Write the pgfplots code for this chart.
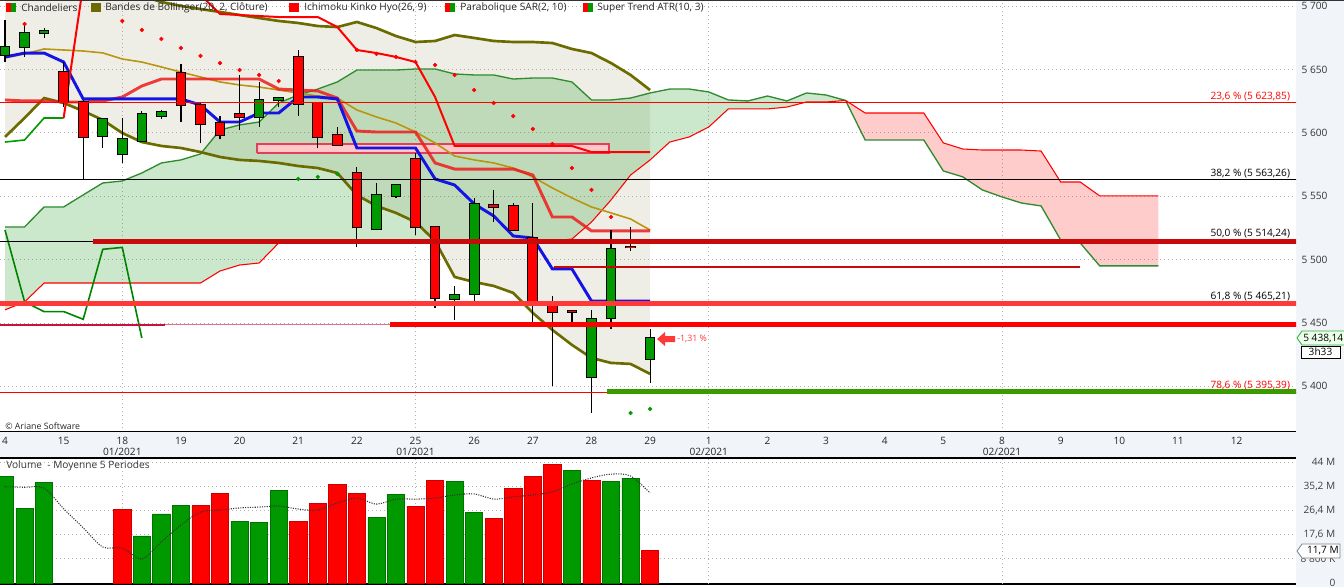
\documentclass[border=0pt]{standalone}
\usepackage{pgfplots}
\usepackage{pgfplotstable}
\usepackage{fontspec}
\setmainfont{Open Sans}
\pgfplotsset{compat=1.18}
\usepgfplotslibrary{fillbetween}

\definecolor{bull}{HTML}{009A00}
\definecolor{bear}{HTML}{FF0000}
\definecolor{bbband}{HTML}{6B6B00}
\definecolor{bbmid}{HTML}{B8960F}
\definecolor{beige}{RGB}{148,142,88}
\definecolor{cloudg}{RGB}{0,140,0}
\definecolor{kijun}{HTML}{EE1C1C}
\definecolor{tenkan}{HTML}{1414E6}
\definecolor{panel}{HTML}{F1F4F9}
\definecolor{gridc}{HTML}{B4B4B4}
\definecolor{fibdark}{HTML}{C80A0A}
\definecolor{fibred}{HTML}{FF3838}
\definecolor{stgreen}{HTML}{3A9A00}
\definecolor{crimson}{HTML}{C8103C}
\definecolor{spanA}{HTML}{2E8B2E}
\definecolor{rectred}{HTML}{E0405A}

\newcommand{\lf}{\fontsize{7.6}{8.3}\selectfont}
\newcommand{\sm}{\fontsize{6.6}{8}\selectfont}

% candles: index, open, high, low, close
\pgfplotstableread{
i O H L C
0 5661.4 5689.0 5655.8 5667.4
1 5667.4 5684.0 5660.0 5678.5
2 5678.5 5682.4 5674.5 5680.3
5 5597.7 5611.0 5588.0 5610.9
6 5583.5 5611.9 5576.4 5594.9
7 5593.8 5617.2 5593.0 5614.6
8 5613.5 5618.0 5610.9 5616.2
13 5612.2 5640.3 5604.7 5625.9
14 5625.6 5628.5 5620.1 5627.2
19 5524.4 5560.2 5523.3 5550.7
20 5550.2 5559.0 5548.8 5558.6
23 5468.7 5479.2 5452.4 5471.8
24 5472.6 5548.3 5466.8 5543.6
30 5407.2 5460.3 5378.8 5452.9
31 5453.7 5523.3 5445.0 5508.1
33 5421.4 5445.0 5402.9 5438.14
}\bullcandles

\pgfplotstableread{
i O H L C
3 5647.7 5655.6 5620.6 5624.5
4 5624.5 5625.9 5562.8 5596.5
9 5646.9 5654.3 5608.8 5621.7
10 5621.7 5624.5 5591.7 5606.7
11 5607.5 5613.2 5594.9 5598.0
12 5614.6 5645.3 5602.2 5612.2
15 5659.5 5665.3 5613.5 5622.7
16 5623.3 5624.0 5588.0 5596.9
17 5598.3 5604.8 5589.6 5590.4
18 5568.0 5573.3 5510.2 5525.5
21 5579.1 5583.8 5519.4 5525.5
22 5525.5 5526.0 5462.0 5469.5
25 5542.8 5554.9 5529.9 5541.2
26 5542.0 5544.9 5523.3 5523.3
27 5516.8 5544.9 5450.2 5466.8
28 5466.8 5471.3 5400.3 5458.9
29 5459.1 5460.3 5450.2 5459.0
32 5509.7 5525.5 5507.0 5509.6
}\bearcandles

% Bollinger (20, 2): upper, middle, lower
\pgfplotstableread{
i U M Lo
0 5721.3 5659.0 5596.7
1 5715.8 5662.2 5611.7
2 5711.0 5666.1 5627.4
3 5712.6 5665.3 5623.5
4 5714.2 5664.5 5617.2
5 5714.2 5663.0 5610.1
6 5712.6 5658.2 5599.8
7 5707.9 5655.8 5592.7
8 5703.2 5651.9 5589.6
9 5700.0 5647.9 5588.0
10 5697.6 5644.0 5584.8
11 5695.3 5640.1 5580.9
12 5692.9 5637.7 5578.6
13 5690.5 5636.1 5577.8
14 5688.2 5633.7 5576.2
15 5686.6 5631.4 5573.8
16 5684.2 5629.0 5572.2
17 5683.4 5627.4 5568.3
18 5687.4 5618.0 5550.9
19 5682.6 5612.5 5542.3
20 5676.3 5607.7 5536.8
21 5671.6 5600.6 5529.6
22 5672.4 5592.0 5514.7
23 5677.1 5581.7 5486.3
24 5674.8 5578.6 5482.3
25 5672.4 5576.2 5479.2
26 5671.6 5572.2 5473.7
27 5671.6 5565.2 5457.9
28 5670.8 5556.5 5444.5
29 5666.1 5548.6 5432.7
30 5662.9 5541.5 5422.4
31 5655.0 5536.8 5418.5
32 5645.6 5532.0 5417.7
33 5633.7 5523.3 5409.8
}\bollinger

% Ichimoku cloud, span A above span B
\pgfplotstableread{
i A B
0 5525.7 5460.3
1 5525.7 5466.6
2 5541.5 5481.5
3 5541.5 5481.5
4 5551.0 5481.5
5 5560.4 5481.5
6 5562.0 5481.5
7 5568.3 5481.5
8 5576.2 5481.5
9 5578.6 5481.5
10 5583.3 5481.5
11 5602.2 5491.0
12 5606.2 5495.7
13 5608.5 5497.3
14 5623.5 5513.1
15 5629.8 5514.7
16 5634.5 5514.7
17 5640.1 5514.7
18 5649.5 5514.7
19 5649.5 5514.7
20 5649.5 5514.7
21 5650.3 5514.7
22 5650.3 5514.7
23 5646.4 5514.7
24 5645.6 5514.7
25 5645.6 5514.7
26 5642.4 5514.7
27 5643.2 5514.7
28 5643.2 5514.7
29 5640.1 5516.2
30 5625.9 5529.6
31 5625.9 5547.0
32 5627.4 5566.7
33 5631.4 5578.6
34 5634.5 5592.7
35 5634.5 5596.7
36 5632.2 5604.6
37 5625.9 5618.8
38 5625.1 5618.8
39 5629.0 5618.8
40 5625.1 5620.3
41 5631.4 5624.3
42 5629.8 5624.3
43 5625.5 5625.5
}\cloudup

% Ichimoku cloud, span B above span A
\pgfplotstableread{
i A B
43 5625.5 5625.5
44 5594.3 5615.6
45 5594.3 5615.6
46 5594.3 5615.6
47 5594.3 5615.6
48 5569.9 5592.0
49 5565.2 5587.2
50 5554.9 5586.4
51 5549.4 5586.4
52 5544.6 5586.4
53 5542.3 5585.6
54 5515.5 5561.2
55 5513.1 5561.2
56 5495.0 5550.2
57 5495.0 5550.2
58 5495.0 5550.2
59 5495.0 5550.2
}\clouddown

% Ichimoku kijun (K) and tenkan (T)
\pgfplotstableread{
i K T
0 5625.9 5659.8
1 5625.1 5662.9
2 5625.1 5662.9
3 5624.3 5655.8
4 5624.3 5626.7
5 5625.1 5626.7
6 5628.2 5626.7
7 5636.9 5626.7
8 5642.4 5626.7
9 5642.4 5626.7
10 5642.4 5621.9
11 5642.4 5608.5
12 5642.4 5608.5
13 5642.4 5615.6
14 5634.5 5615.6
15 5633.7 5628.2
16 5633.0 5628.2
17 5627.4 5626.7
18 5601.4 5588.0
19 5600.6 5588.0
20 5600.6 5588.0
21 5600.6 5588.0
22 5576.2 5563.6
23 5571.4 5558.8
24 5571.4 5543.9
25 5571.4 5534.4
26 5571.4 5518.6
27 5566.7 5517.0
28 5533.6 5492.6
29 5533.6 5492.6
30 5522.6 5467.3
31 5522.6 5467.3
32 5522.6 5467.3
33 5522.6 5467.3
}\kijuntenkan

% Super Trend ATR(10,3), bearish stretch
\pgfplotstableread{
i S
3 5611.7
4 5716.6
5 5740.0
6 5740.0
7 5740.0
8 5740.0
9 5740.0
10 5708.7
11 5693.7
12 5692.9
13 5692.1
14 5691.3
15 5691.3
16 5691.3
17 5683.4
18 5665.3
19 5662.9
20 5659.8
21 5655.8
22 5628.2
23 5589.6
24 5589.6
25 5589.6
26 5589.6
27 5589.6
28 5589.6
29 5589.6
30 5584.8
31 5584.8
32 5584.8
33 5584.8
}\supertrend

% volume (millions) and 5-period average
\pgfplotstableread{
i V
0 38.9
1 27.2
2 36.6
7 17.1
8 25.1
9 28.2
12 22.4
13 22.1
14 33.7
19 23.9
20 32.3
23 37.0
24 25.7
29 41.0
31 37.0
32 38.1
}\volup

\pgfplotstableread{
i V
6 26.9
10 28.2
11 32.6
15 22.4
16 29.0
17 35.9
18 32.6
21 27.9
22 37.3
25 23.5
26 34.4
27 38.8
28 43.2
30 37.3
33 11.7
}\voldown

\pgfplotstableread{
i V
0 35.0
1 34.8
2 34.5
3 27.0
4 20.1
5 13.1
6 12.7
7 8.7
8 15.0
9 21.1
10 25.8
11 26.5
12 27.3
13 27.6
14 28.0
15 26.9
16 26.5
17 29.1
18 30.9
19 28.7
20 30.5
21 30.5
22 30.9
23 32.0
24 32.4
25 30.5
26 31.3
27 32.0
28 33.1
29 36.0
30 38.2
31 39.6
32 38.9
33 32.7
}\volavg

\pgfplotsset{
  gridded/.style={
    grid style={gridc, line width=0.7pt, dash pattern=on 0.75pt off 2.25pt},
  },
  wick/.style={forget plot, mark=none, black, line width=0.9pt,
    quiver={u=0, v=\thisrow{H}-\thisrow{L}}},
  bodyline/.style={forget plot, mark=none, line width=#1,
    quiver={u=0, v=abs(\thisrow{C}-\thisrow{O})}},
}

\begin{document}
\begin{tikzpicture}
\begin{scope}[x=0.75pt,y=0.75pt]
\fill[panel] (1296,0) rectangle (1344,587);
\fill[panel] (0,129) rectangle (1296,155);
\end{scope}

% ---------------- price panel ----------------
\begin{axis}[
  at={(0pt,116.25pt)}, anchor=south west,
  width=972pt, height=324pt, scale only axis,
  xmin=-0.256, xmax=66.04, ymin=5364.0, ymax=5704.73,
  axis x line*=bottom, axis y line*=right,
  x axis line style={black, line width=0.8pt},
  y axis line style={gray!55, line width=0.6pt},
  xtick={0,3,...,63},
  xticklabels={4,15,{18\\01/2021},19,20,21,22,{25\\01/2021},26,27,28,29,
    {1\\02/2021},2,3,4,5,{8\\02/2021},9,10,11,12},
  xticklabel style={font=\lf, align=center, text=black!85, inner sep=1pt},
  ytick={5400,5450,...,5700},
  yticklabels={5 400,5 450,5 500,5 550,5 600,5 650,5 700},
  yticklabel style={font=\lf, text=black!80, inner sep=1.5pt},
  tick align=outside, major tick length=2.5pt,
  tick style={black!70, line width=0.6pt},
  gridded, ymajorgrids,
  extra x ticks={6,21,36,51}, extra x tick labels={},
  extra x tick style={grid=major, major tick length=0pt},
]
% Bollinger envelope
\addplot[draw=none, name path=bbU, forget plot] table[x=i, y=U] {\bollinger};
\addplot[draw=none, name path=bbL, forget plot] table[x=i, y=Lo] {\bollinger};
\addplot[fill=beige, fill opacity=0.15, draw=none, forget plot] fill between[of=bbU and bbL];

% Ichimoku cloud
\addplot[spanA, line width=1pt, name path=upA, forget plot] table[x=i, y=A] {\cloudup};
\addplot[bear, line width=0.8pt, name path=upB, forget plot] table[x=i, y=B] {\cloudup};
\addplot[spanA, line width=1pt, name path=dnA, forget plot] table[x=i, y=A] {\clouddown};
\addplot[bear, line width=0.8pt, name path=dnB, forget plot] table[x=i, y=B] {\clouddown};
\addplot[fill=cloudg, fill opacity=0.2, draw=none, forget plot] fill between[of=upA and upB];
\addplot[fill=bear, fill opacity=0.2, draw=none, forget plot] fill between[of=dnA and dnB];

% highlighted flat zone
\addplot[fill=red!22, draw=rectred, line width=1.5pt, forget plot]
  coordinates {(12.9,5584.1) (30.9,5584.1) (30.9,5591.2) (12.9,5591.2) (12.9,5584.1)};

% Bollinger lines
\addplot[bbband, line width=2pt] table[x=i, y=U] {\bollinger};
\addplot[bbband, line width=2pt] table[x=i, y=Lo] {\bollinger};
\addplot[bbmid, line width=1.2pt] table[x=i, y=M] {\bollinger};

% Kijun / Tenkan
\addplot[kijun, line width=2.2pt, draw opacity=0.85] table[x=i, y=K] {\kijuntenkan};
\addplot[tenkan, line width=2.2pt] table[x=i, y=T] {\kijuntenkan};

% Super Trend
\addplot[bull, line width=1.2pt] coordinates {(0,5592.7) (1,5594.3) (2,5611.7) (3,5611.7)};
\addplot[bear, line width=1.5pt] table[x=i, y=S] {\supertrend};

% lagging line
\addplot[bull!85!black, line width=1.2pt] coordinates {(0,5523.3) (1,5466.8) (2,5458.9) (3,5459.0) (4,5452.9) (5,5508.1) (6,5509.6) (7,5438.1)};

% candles: wicks, body outline, body fill
\addplot[wick] table[x=i, y=L] {\bullcandles};
\addplot[wick] table[x=i, y=L] {\bearcandles};
\addplot[forget plot, mark=none, black, line width=8pt,
  quiver={u=0, v=abs(\thisrow{C}-\thisrow{O})+1.6}]
  table[x=i, y expr={min(\thisrow{O},\thisrow{C})-0.8}] {\bullcandles};
\addplot[forget plot, mark=none, black, line width=8pt,
  quiver={u=0, v=abs(\thisrow{C}-\thisrow{O})+1.6}]
  table[x=i, y expr={min(\thisrow{O},\thisrow{C})-0.8}] {\bearcandles};
\addplot[bodyline=6.5pt, bull] table[x=i, y expr={min(\thisrow{O},\thisrow{C})}] {\bullcandles};
\addplot[bodyline=6.5pt, bear] table[x=i, y expr={min(\thisrow{O},\thisrow{C})}] {\bearcandles};

% Fibonacci retracements and levels
\addplot[bear, line width=0.8pt] coordinates {(-1,5623.85) (67,5623.85)};
\addplot[black, line width=0.8pt] coordinates {(-1,5563.26) (67,5563.26)};
\addplot[black, line width=0.8pt] coordinates {(-1,5514.24) (4.5,5514.24)};
\addplot[fibdark, line width=3.8pt] coordinates {(4.5,5514.24) (67,5514.24)};
\addplot[fibred, line width=4pt] coordinates {(-1,5465.21) (67,5465.21)};
\addplot[crimson, line width=1.5pt] coordinates {(-1,5448.6) (8.2,5448.6)};
\addplot[crimson!60, line width=0.7pt] coordinates {(8.2,5448.6) (19.7,5448.6)};
\addplot[bear, line width=4pt] coordinates {(19.7,5448.6) (67,5448.6)};
\addplot[fibdark, line width=1.5pt] coordinates {(28.1,5494.2) (55,5494.2)};
\addplot[bear, line width=0.8pt] coordinates {(-1,5395.0) (67,5395.0)};
\addplot[stgreen, line width=3.8pt] coordinates {(30.8,5396.0) (67,5396.0)};

% Parabolic SAR
\addplot[only marks, mark=*, mark size=1.4pt, bear, mark options={draw=none, fill=bear}] coordinates {
(1,5685.8) (6,5688.2) (7,5681.1) (8,5674.0) (9,5666.9) (10,5660.6) (11,5655.0) (12,5649.5)
(13,5645.6) (14,5640.8) (18,5665.3) (19,5662.2) (20,5659.8) (21,5655.8) (22,5653.5)
(23,5645.6) (24,5633.7) (25,5623.5) (26,5613.2) (27,5603.0) (28,5591.2) (29,5572.2)
(30,5554.9) (31,5533.6)};
\addplot[only marks, mark=*, mark size=1.4pt, bull, mark options={draw=none, fill=bull}] coordinates {
(15,5563.6) (16,5565.2) (17,5567.5) (32,5379.0) (33,5382.2)};

\node[anchor=south east, inner sep=0.8pt, font=\lf, text=bear] at (axis cs:65.8,5623.85) {23,6 \% (5 623,85)};
\node[anchor=south east, inner sep=0.8pt, font=\lf] at (axis cs:65.8,5563.26) {38,2 \% (5 563,26)};
\node[anchor=south east, inner sep=0.8pt, font=\lf] at (axis cs:65.8,5515.5) {50,0 \% (5 514,24)};
\node[anchor=south east, inner sep=0.8pt, font=\lf] at (axis cs:65.8,5466.5) {61,8 \% (5 465,21)};
\node[anchor=south east, inner sep=0.8pt, font=\lf, text=bear] at (axis cs:65.8,5396.3) {78,6 \% (5 395,39)};
\end{axis}

% ---------------- volume panel ----------------
\begin{axis}[
  at={(0pt,2.25pt)}, anchor=south west,
  width=972pt, height=94.5pt, scale only axis,
  xmin=-0.256, xmax=66.04, ymin=-0.364, ymax=45.45,
  axis x line*=bottom, axis y line*=right,
  x axis line style={black, line width=1pt},
  y axis line style={draw=none},
  xtick=\empty,
  extra x ticks={6,21,36,51}, extra x tick labels={},
  extra x tick style={grid=major, major tick length=0pt},
  ytick={0,8.8,17.6,26.4,35.2,44},
  yticklabels={0,{8 800 K},{17,6 M},{26,4 M},{35,2 M},{44 M}},
  yticklabel style={font=\lf, text=black!75, anchor=east, xshift=33pt},
  major tick length=0pt,
  gridded, ymajorgrids,
]
\addplot[ybar, bar width=0.88, bar shift=0pt, fill=bull, draw=bull!75!black, line width=0.5pt] table[x=i, y=V] {\volup};
\addplot[ybar, bar width=0.88, bar shift=0pt, fill=bear, draw=bear!80!black, line width=0.5pt] table[x=i, y=V] {\voldown};
\addplot[black!80, smooth, line width=0.8pt, dash pattern=on 0.8pt off 1pt] table[x=i, y=V] {\volavg};
\end{axis}

\begin{scope}[x=0.75pt,y=0.75pt]
% frame lines
\draw[black!80, line width=0.8pt] (0,586.6) -- (1344,586.6);
\draw[black, line width=2.2pt] (0,129) -- (1296,129);

% legend
\fill[bear] (6,575) rectangle (11,584); \fill[bull] (11,575) rectangle (16,584);
\node[anchor=west, font=\lf, text=black!85, inner sep=0pt] at (21,579.5) {Chandeliers};
\fill[bbband] (91,575) rectangle (101,584);
\node[anchor=west, font=\lf, text=black!85, inner sep=0pt] at (105,579.5) {Bandes de Bollinger(20, 2, Clôture)};
\fill[bear] (289,575) rectangle (299,584);
\node[anchor=west, font=\lf, text=black!85, inner sep=0pt] at (304,579.5) {Ichimoku Kinko Hyo(26, 9)};
\fill[bear] (445,575) rectangle (450,584); \fill[bull] (450,575) rectangle (455,584);
\node[anchor=west, font=\lf, text=black!85, inner sep=0pt] at (460,579.5) {Parabolique SAR(2, 10)};
\fill[bear] (583,575) rectangle (588,584); \fill[bull] (588,575) rectangle (593,584);
\node[anchor=west, font=\lf, text=black!85, inner sep=0pt] at (597,579.5) {Super Trend ATR(10, 3)};

% annotations
\node[anchor=west, font=\sm, text=black!85, inner sep=0pt] at (5,161) {© Ariane Software};
\node[anchor=west, font=\lf, text=black!80, inner sep=0pt] at (6,121) {Volume\ \ - Moyenne 5 Periodes};
\fill[fibred] (657,248) -- (665,255) -- (665,251) -- (675,251) -- (675,245) -- (665,245) -- (665,241) -- cycle;
\node[anchor=west, font=\sm, text=fibred, inner sep=0pt] at (677,248) {-1,31 \%};

% last price and countdown tags
\draw[draw=bull!80, fill=green!8, line width=0.6pt] (1297,249) -- (1302,256) -- (1345,256) -- (1345,242) -- (1302,242) -- cycle;
\node[anchor=west, font=\lf, inner sep=0pt] at (1303,249) {5 438,14};
\draw[black, fill=white, line width=0.6pt] (1301,241) rectangle (1340,229);
\node[font=\lf, inner sep=0pt] at (1320.5,235) {3h33};
\draw[draw=gray, fill=white, line width=0.6pt] (1297,36) -- (1302,43) -- (1340,43) -- (1340,29) -- (1302,29) -- cycle;
\node[anchor=east, font=\lf, inner sep=0pt] at (1339,36) {11,7 M};

\pgfresetboundingbox
\useasboundingbox (0,0) rectangle (1344,587);
\end{scope}
\end{tikzpicture}
\end{document}
